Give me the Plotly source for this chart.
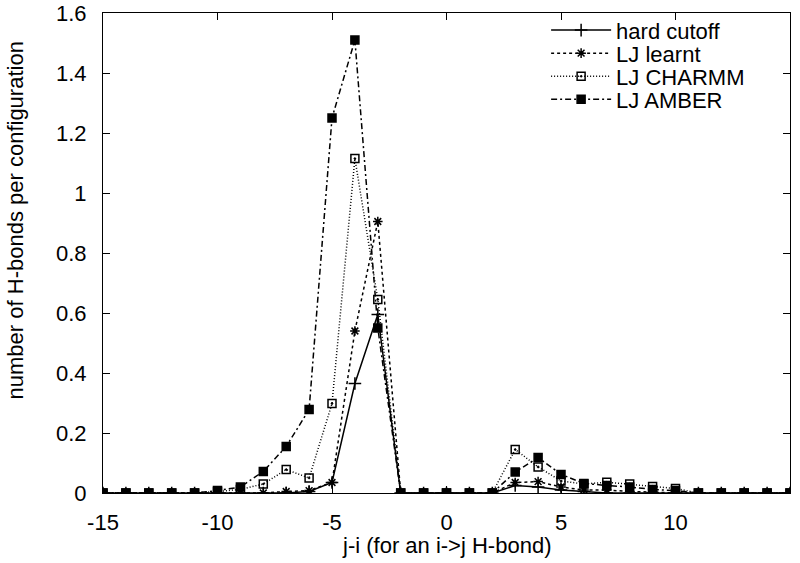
import plotly.graph_objects as go

x = list(range(-15, 16))

# values at j-i = -15 .. 15
hard_cutoff = [0, 0, 0, 0, 0, 0, 0, 0, 0,
               0.005, 0.035, 0.365, 0.595,
               0, 0, 0, 0, 0,
               0.025, 0.02, 0.01, 0.005,
               0, 0, 0, 0, 0, 0, 0, 0, 0]
lj_learnt = [0, 0, 0, 0, 0, 0, 0, 0,
             0.005, 0.008, 0.035, 0.54, 0.905,
             0, 0, 0, 0, 0,
             0.035, 0.038, 0.02, 0.01, 0.01, 0.005, 0.003,
             0, 0, 0, 0, 0, 0]
lj_charmm = [0, 0, 0, 0, 0,
             0.005, 0.012, 0.03, 0.078, 0.05, 0.298, 1.115, 0.645,
             0, 0, 0, 0, 0,
             0.145, 0.087, 0.04, 0.03, 0.036, 0.03, 0.022, 0.015,
             0, 0, 0, 0, 0]
lj_amber = [0, 0, 0, 0, 0,
            0.008, 0.02, 0.072, 0.155, 0.278, 1.25, 1.51, 0.55,
            0, 0, 0, 0, 0,
            0.07, 0.118, 0.062, 0.032, 0.025, 0.02, 0.012, 0.008,
            0, 0, 0, 0, 0]

x_tick_vals = [-15, -10, -5, 0, 5, 10, 15]
x_tick_text = ["-15", "-10", "-5", "0", "5", "10", "15"]

series = [
    ("hard cutoff", hard_cutoff, "solid", "cross-thin", 9),
    ("LJ learnt", lj_learnt, "3px,3px", "asterisk-open", 8),
    ("LJ CHARMM", lj_charmm, "1px,2px", "square-open-dot", 8),
    ("LJ AMBER", lj_amber, "6px,3px,2px,3px", "square", 8),
]

FS = 22
font = dict(family="Liberation Sans, Arial, sans-serif", size=FS, color="black")

fig = go.Figure()
legend_ids = ["legend", "legend2", "legend3", "legend4"]
legend_rows_y = [0.962, 0.914, 0.866, 0.818]
layout_legends = {}
for (name, y, dash, sym, size), lid, ly in zip(series, legend_ids, legend_rows_y):
    fig.add_trace(go.Scatter(
        x=x, y=y, name=name, mode="lines+markers", legend=lid,
        line=dict(color="black", width=1.5, dash=dash),
        marker=dict(symbol=sym, size=size, color="black",
                    line=dict(color="black", width=1.5)),
    ))
    layout_legends[lid] = dict(x=0.645, y=ly, xanchor="left", yanchor="middle",
                               bgcolor="rgba(0,0,0,0)", font=font,
                               itemwidth=60, borderwidth=0)

fig.update_layout(
    width=800, height=563, autosize=False,
    margin=dict(l=103, r=10, t=12, b=70, pad=0),
    paper_bgcolor="white", plot_bgcolor="white",
    font=font,
    showlegend=True,
    **layout_legends,
)
fig.update_xaxes(
    range=[-15, 15], tickmode="array", tickvals=x_tick_vals, ticktext=x_tick_text,
    ticks="inside", ticklen=7, tickcolor="black", ticklabelstandoff=10,
    showline=True, linecolor="black", linewidth=1, mirror="ticks",
    showgrid=False, zeroline=False, automargin=False,
)
fig.update_yaxes(
    range=[0, 1.6], tickmode="linear", tick0=0, dtick=0.2,
    ticks="inside", ticklen=7, tickcolor="black",
    showline=True, linecolor="black", linewidth=1, mirror="ticks",
    showgrid=False, zeroline=False, ticklabelstandoff=11, automargin=False,
)
fig.add_annotation(text="j-i (for an i->j H-bond)", xref="paper", yref="paper",
                   x=0.5, y=-0.11, xanchor="center", yanchor="middle",
                   showarrow=False, font=font)
fig.add_annotation(text="number of H-bonds per configuration", xref="paper", yref="paper",
                   x=-0.128, y=0.568, xanchor="center", yanchor="middle",
                   textangle=-90, showarrow=False, font=font)

page_js = """
document.documentElement.style.margin='0px';
document.body.style.margin='0px';
document.documentElement.style.overflow='hidden';
document.body.style.overflow='hidden';
"""

fig.write_html("out.html", config={"displayModeBar": False}, post_script=page_js)
